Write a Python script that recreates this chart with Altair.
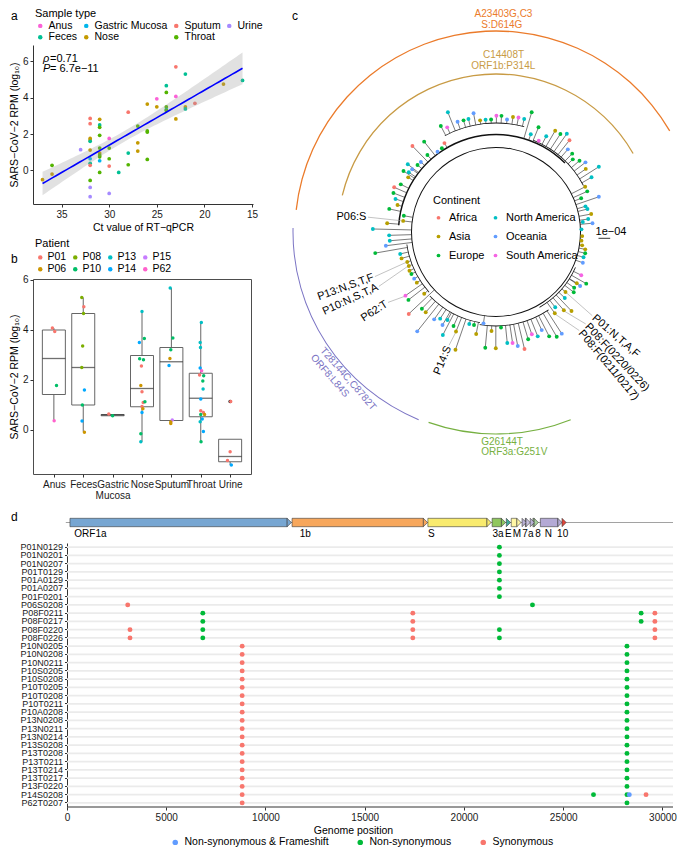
import json
import numpy as np
import pandas as pd
import altair as alt

FONT = "Liberation Sans"

# ======================= panel a: scatter =======================
a_ct = [37, 36, 36, 33,
        32, 32, 32, 32, 32, 32, 32, 32, 32, 32, 32, 32,
        31, 31, 31, 31, 31, 31, 31, 31, 31, 31,
        30, 30, 30, 30, 30,
        29,
        28, 28, 28,
        27, 27, 27,
        26, 26, 26, 26,
        25, 25,
        24, 24, 24, 24, 24,
        23, 23, 23,
        22, 22, 22,
        21, 18, 16]
a_rpm = [-0.51, 0.28, -0.20, 1.14,
         2.86, 2.57, 1.76, 1.67, 1.60, 1.12, 0.64, 0.39, 0.28, -0.55, -0.94, -1.45,
         2.81, 2.50, 2.37, 1.93, 1.23, 0.95, 0.84, 0.75, 0.53, -0.11,
         1.76, 1.23, 0.64, 0.24, -1.27,
         -0.11,
         3.20, 0.95, 0.31,
         2.44, 1.52, 1.06,
         3.65, 2.17, 2.11, 0.60,
         3.94, 3.50,
         4.66, 4.29, 3.49, 3.34, 3.30,
         5.70, 4.07, 2.83,
         5.30, 3.49, 3.38,
         3.69, 4.75, 4.95]
a_type = ["Nose", "Throat", "Nose", "Urine",
          "Sputum", "Sputum", "Nose", "Nose", "Feces", "Nose", "Gastric Mucosa", "Feces", "Sputum", "Throat", "Urine", "Urine",
          "Nose", "Feces", "Throat", "Throat", "Throat", "Nose", "Throat", "Throat", "Gastric Mucosa", "Throat",
          "Anus", "Throat", "Throat", "Sputum", "Urine",
          "Feces",
          "Sputum", "Feces", "Throat",
          "Throat", "Nose", "Nose",
          "Nose", "Throat", "Throat", "Throat",
          "Anus", "Nose",
          "Feces", "Throat", "Throat", "Feces", "Throat",
          "Sputum", "Anus", "Nose",
          "Feces", "Nose", "Feces",
          "Sputum", "Nose", "Feces"]
type_order = ["Anus", "Feces", "Gastric Mucosa", "Nose", "Sputum", "Throat", "Urine"]
type_colors = ["#FB61D7", "#00C094", "#00B6EB", "#C49A00", "#F8766D", "#53B400", "#A58AFF"]
stat_sym = ["ρ", "P"]
stat_val = ["=0.71", "= 6.7e−11"]
stat_ct = [36.95, 36.95]
stat_y = [6.13, 5.57]

dfa = pd.DataFrame({"ct": a_ct, "rpm": a_rpm, "stype": a_type})
xa = np.array(a_ct, float)
ya = np.array(a_rpm, float)
n = len(xa)
slope, icpt = np.polyfit(xa, ya, 1)
res = ya - (icpt + slope * xa)
s_err = np.sqrt((res ** 2).sum() / (n - 2))
sxx = ((xa - xa.mean()) ** 2).sum()
grid = np.linspace(xa.min(), xa.max(), 60)
fit = icpt + slope * grid
se = s_err * np.sqrt(1.0 / n + (grid - xa.mean()) ** 2 / sxx)
band = pd.DataFrame({"ct": grid, "fit": fit, "lo": fit - 2.003 * se, "hi": fit + 2.003 * se})
dfs = pd.DataFrame({"ct": stat_ct, "y": stat_y, "sym": stat_sym, "val": stat_val})

XA = alt.Scale(domain=[38, 14.9], nice=False, zero=False)
YA = alt.Scale(domain=[-1.85, 6.9], nice=False, zero=False)
axa_x = alt.Axis(values=[35, 30, 25, 20, 15], title="Ct value of RT−qPCR", tickSize=3,
                 labelPadding=2, titlePadding=3, labelFlush=False)
axa_y = alt.Axis(values=[0, 2, 4, 6], title="SARS−CoV−2 RPM (log₁₀)", tickSize=3,
                 labelPadding=2, titlePadding=3)

pts_a = alt.Chart(dfa).mark_circle(size=14, opacity=1).encode(
    x=alt.X("ct:Q", scale=XA, axis=axa_x),
    y=alt.Y("rpm:Q", scale=YA, axis=axa_y),
    color=alt.Color("stype:N", scale=alt.Scale(domain=type_order, range=type_colors),
                    legend=alt.Legend(orient="none", legendX=2, legendY=-37, columns=4,
                                      title="Sample type", symbolType="circle", symbolSize=20,
                                      labelFontSize=10.5, titleFontSize=11, rowPadding=0.5,
                                      columnPadding=3, labelOffset=3, titlePadding=1.5)))
band_a = alt.Chart(band).mark_area(color="#9a9a9a", opacity=0.3).encode(
    x=alt.X("ct:Q", scale=XA, axis=axa_x),
    y=alt.Y("lo:Q", scale=YA, axis=axa_y), y2="hi:Q")
line_a = alt.Chart(band).mark_line(color="#0000FF", strokeWidth=1.6).encode(
    x=alt.X("ct:Q", scale=XA, axis=axa_x),
    y=alt.Y("fit:Q", scale=YA, axis=axa_y))
sym_a = alt.Chart(dfs).mark_text(align="left", baseline="middle", fontSize=11, fontStyle="italic").encode(
    x=alt.X("ct:Q", scale=XA, axis=axa_x), y=alt.Y("y:Q", scale=YA, axis=axa_y), text="sym:N")
val_a = alt.Chart(dfs).mark_text(align="left", baseline="middle", fontSize=11, dx=7).encode(
    x=alt.X("ct:Q", scale=XA, axis=axa_x), y=alt.Y("y:Q", scale=YA, axis=axa_y), text="val:N")
lab_a = alt.Chart(pd.DataFrame({"t": ["a"]})).mark_text(
    align="left", baseline="alphabetic", fontSize=12).encode(
    x=alt.value(-22), y=alt.value(-25), text="t:N")
panel_a = alt.layer(pts_a, band_a, line_a, sym_a, val_a, lab_a).properties(
    width=220, height=159, view=alt.ViewBackground(strokeWidth=0))

# ======================= panel b: boxplot =======================
b_cats = ["Anus", "Feces", "Gastric Mucosa", "Nose", "Sputum", "Throat", "Urine"]
b_lo = [0.36, -0.08, 0.55, -0.48, 0.25, -0.48, -1.41]
b_q1 = [1.41, 0.99, 0.56, 0.92, 0.37, 0.52, -1.28]
b_med = [2.85, 2.49, 0.59, 1.65, 2.72, 1.26, -1.07]
b_q3 = [3.99, 4.65, 0.61, 2.97, 3.29, 2.26, -0.38]
b_hi = [4.07, 5.29, 0.63, 4.73, 5.67, 4.29, -0.38]
b_out_cat = ["Urine"]
b_out_val = [1.13]

b_pt_cat = (["Anus"] * 4 + ["Feces"] * 9 + ["Gastric Mucosa"] * 2 + ["Nose"] * 15 +
            ["Sputum"] * 8 + ["Throat"] * 18 + ["Urine"] * 4)
b_pt_val = [4.07, 3.93, 1.77, 0.36,
            5.29, 4.92, 4.65, 3.35, 2.49, 1.59, 0.99, 0.35, -0.10,
            0.63, 0.56,
            4.73, 3.49, 3.65, 2.84, 2.80, 2.55, 1.77, 1.52, 1.09, 1.12, 0.93, 0.84, 0.69, -0.16, -0.48,
            5.67, 3.67, 3.20, 2.85, 2.57, 0.39, 0.31, 0.25,
            4.29, 3.49, 3.29, 2.47, 2.36, 2.19, 2.16, 1.95, 1.63, 1.23, 0.76, 0.69, 0.61, 0.61, 0.43, 0.32, -0.07, -0.48,
            1.13, -0.88, -1.23, -1.41]
b_pt_jit = [-0.05, 0.03, 0.09, 0.01,
            -0.05, 0.02, 0.01, -0.02, -0.05, 0.04, -0.03, -0.04, 0.04,
            -0.13, 0.0,
            0.0, -0.09, 0.08, -0.08, 0.05, -0.02, -0.04, 0.0, 0.04, 0.10, 0.0, 0.03, 0.0, -0.04, -0.04,
            -0.04, 0.05, -0.02, -0.05, -0.08, 0.03, -0.02, -0.02,
            0.02, -0.02, -0.01, -0.02, 0.03, -0.04, 0.10, 0.07, 0.08, 0.0, 0.0, 0.09, 0.13, 0.0, 0.05, -0.02, 0.09, 0.01,
            0.02, 0.0, -0.09, 0.04]
b_pt_pat = ["P01", "P01", "P10", "P62",
            "P08", "P01", "P08", "P08", "P08", "P14", "P10", "P14", "P06",
            "P01", "P10",
            "P13", "P14", "P10", "P10", "P10", "P01", "P06", "P01", "P01", "P10", "P01", "P06", "P14", "P10", "P13",
            "P13", "P10", "P10", "P06", "P14", "P15", "P06", "P06",
            "P13", "P13", "P13", "P14", "P62", "P01", "P10", "P10", "P13", "P14", "P01", "P01", "P06", "P10", "P14", "P13", "P14", "P10",
            "P01", "P01", "P01", "P14"]
pat_order = ["P01", "P06", "P08", "P10", "P13", "P14", "P15", "P62"]
pat_colors = ["#F8766D", "#CD9600", "#7CAE00", "#00BE67", "#00BFC4", "#00A9FF", "#C77CFF", "#FF61CC"]

cat_idx = {c: i for i, c in enumerate(b_cats)}
dfb_box = pd.DataFrame({"cat": b_cats, "idx": list(range(len(b_cats))), "lo": b_lo, "q1": b_q1,
                        "med": b_med, "q3": b_q3, "hi": b_hi})
dfb_pt = pd.DataFrame({"cat": b_pt_cat, "val": b_pt_val, "jit": b_pt_jit, "pat": b_pt_pat})
dfb_pt["xp"] = dfb_pt["cat"].map(cat_idx) + dfb_pt["jit"]
dfb_out = pd.DataFrame({"cat": b_out_cat, "val": b_out_val})
dfb_out["xp"] = dfb_out["cat"].map(cat_idx)

XB = alt.Scale(domain=[-0.54, len(b_cats) - 1 + 0.54], nice=False, zero=False)
YB = alt.Scale(domain=[-1.77, 6.03], nice=False, zero=False)
label_arr = json.dumps([c.split(" ") if " " in c else c for c in b_cats], ensure_ascii=False)
axb_x = alt.Axis(values=list(range(len(b_cats))), labelExpr=label_arr + "[datum.value]", title=None,
                 tickSize=3, labelPadding=2, domain=False, labelOverlap=False, labelFlush=False,
                 labelFontSize=10, labelLineHeight=11)
axb_y = alt.Axis(values=[0, 2, 4, 6], title="SARS−CoV−2 RPM (log₁₀)", domain=False, tickSize=3,
                 labelPadding=2, titlePadding=3)
BOXC = "#555555"
wh1 = alt.Chart(dfb_box).mark_rule(color=BOXC, strokeWidth=0.9).encode(
    x=alt.X("idx:Q", scale=XB, axis=axb_x), y=alt.Y("lo:Q", scale=YB, axis=axb_y), y2="q1:Q")
wh2 = alt.Chart(dfb_box).mark_rule(color=BOXC, strokeWidth=0.9).encode(
    x=alt.X("idx:Q", scale=XB, axis=axb_x), y=alt.Y("q3:Q", scale=YB, axis=axb_y), y2="hi:Q")
box = alt.Chart(dfb_box).mark_bar(size=23, fill="white", stroke=BOXC, strokeWidth=0.9).encode(
    x=alt.X("idx:Q", scale=XB, axis=axb_x), y=alt.Y("q1:Q", scale=YB, axis=axb_y), y2="q3:Q")
med = alt.Chart(dfb_box).mark_tick(orient="horizontal", size=23, thickness=1.3, color="#333333").encode(
    x=alt.X("idx:Q", scale=XB, axis=axb_x), y=alt.Y("med:Q", scale=YB, axis=axb_y))
outl = alt.Chart(dfb_out).mark_circle(size=12, color="black", opacity=1).encode(
    x=alt.X("xp:Q", scale=XB, axis=axb_x), y=alt.Y("val:Q", scale=YB, axis=axb_y))
pts_b = alt.Chart(dfb_pt).mark_circle(size=12, opacity=1).encode(
    x=alt.X("xp:Q", scale=XB, axis=axb_x), y=alt.Y("val:Q", scale=YB, axis=axb_y),
    color=alt.Color("pat:N", scale=alt.Scale(domain=pat_order, range=pat_colors),
                    legend=alt.Legend(orient="none", legendX=2, legendY=-41, columns=4,
                                      title="Patient", symbolType="circle", symbolSize=20,
                                      labelFontSize=10.5, titleFontSize=11, rowPadding=1,
                                      columnPadding=3, labelOffset=2, titlePadding=3)))
lab_b = alt.Chart(pd.DataFrame({"t": ["b"]})).mark_text(
    align="left", baseline="alphabetic", fontSize=12).encode(
    x=alt.value(-22), y=alt.value(-16), text="t:N")
panel_b = alt.layer(wh1, wh2, box, med, outl, pts_b, lab_b).properties(
    width=218, height=195, view=alt.ViewBackground(stroke="#4d4d4d", strokeWidth=1))

# ======================= panel c: circular tree =======================
cont_names = {"F": "Africa", "A": "Asia", "E": "Europe", "N": "North America",
              "O": "Oceania", "S": "South America"}
cont_order = ["Africa", "Asia", "Europe", "North America", "Oceania", "South America"]
cont_colors = ["#F8766D", "#B79F00", "#00BA38", "#00BFC4", "#619CFF", "#F564E3"]

tip_code = list("AAEEANEFEA" "NEONEOEFEO" "EFESNOENOA" "NESEOASNEN" "ESNAENFOEE"
                "EOANNAEOEN" "NANONNAAAA" "ENOSAEOEEA" "NNAAAOEEON" "SEFOSNEAAE"
                "OAENAAENNO" "NOAEOFESAA" "OEAAAANEON" "NN")
tip_angle = [175.4, 173.2, 170.0, 167.8, 164.7, 161.8, 159.2, 156.3, 153.4, 148.1,
             145.6, 146.6, 143.2, 142.5, 139.5, 137.0, 131.7, 134.2, 128.5, 126.1,
             122.9, 120.1, 117.5, 115.0, 111.9, 109.2, 106.2, 103.7, 100.7, 98.1,
             95.3, 92.5, 89.8, 87.3, 84.4, 81.6, 78.9, 76.0, 73.4, 70.4,
             67.9, 64.9, 62.3, 59.7, 56.7, 54.2, 51.3, 49.0, 45.8, 43.4,
             40.5, 37.9, 35.1, 32.4, 29.8, 26.9, 24.0, 18.9, 21.6, 16.0,
             14.1, 10.7, 8.0, 5.2, 6.6, 1.8, -2.7, -5.8, -8.8, -11.0,
             -13.4, -16.1, -19.5, -26.9, -32.4, -29.8, -32.7, -35.5, -37.8, -40.8,
             -43.8, -51.8, -54.1, -49.1, -46.3, -57.1, -59.9, -63.0, -65.0, -68.2,
             -70.7, -73.3, -76.3, -79.2, -81.5, -84.2, -87.0, -90.1, -92.6, -95.3,
             -97.8, -101.0, -103.3, -106.2, -111.9, -109.0, -114.3, -118.9, -117.3, -119.9,
             -122.8, -125.3, -131.2, -134.0, -128.4, -136.8, -142.2, -144.9, -139.3, -147.4,
             -150.3, -153.6, -155.9, -158.7, -161.3, -164.4, -167.1, -170.1, -172.9, -175.3,
             -178.2, 178.6]
tip_radius = [109.2, 93.5, 93.6, 109.2, 102.1, 105.8, 109.7, 111.2, 106.5, 103.4,
              105.7, 110.8, 104.7, 111.2, 103.2, 102.7, 103.1, 119.9, 115.4, 99.3,
              99.7, 102.8, 119.5, 115.5, 129.0, 116.8, 116.3, 116.3, 120.8, 112.8,
              112.8, 112.6, 116.3, 116.3, 113.0, 116.2, 116.7, 116.5, 124.9, 103.7,
              113.0, 100.8, 108.1, 117.3, 117.3, 121.1, 117.5, 109.5, 109.3, 105.7,
              109.8, 113.4, 109.7, 121.8, 110.1, 100.0, 99.9, 108.7, 91.6, 93.1,
              94.3, 96.9, 93.1, 96.9, 87.4, 85.5, 86.3, 85.9, 87.2, 90.9,
              91.7, 91.1, 92.1, 95.6, 95.7, 104.0, 100.0, 96.0, 98.4, 91.8,
              95.3, 95.8, 100.3, 103.6, 109.3, 121.1, 121.1, 117.1, 108.2, 112.4,
              108.4, 112.0, 120.4, 116.1, 112.2, 111.6, 95.6, 116.3, 99.1, 116.2,
              92.2, 103.9, 95.6, 95.8, 107.2, 124.5, 103.2, 100.5, 115.9, 107.3,
              103.1, 107.0, 106.7, 106.7, 126.8, 119.7, 110.8, 110.7, 94.7, 94.0,
              94.2, 94.4, 94.8, 93.6, 93.7, 98.1, 98.3, 122.6, 111.0, 106.6,
              106.9, 123.2]

bb_t1 = [-180, 45, 75, 28, -100, -136, -172, -60]
bb_t2 = [180, 176, 118, 68, -56, -100, -138, -24]
bb_r = [84.5, 97.5, 109.0, 99.0, 94.0, 92.0, 90.0, 87.0]
bb_w = [1.0, 1.5, 0.8, 0.8, 0.8, 0.8, 0.8, 0.8]

ann_arc_t1 = [30.2, 29.8, 178.9, -109.5]
ann_arc_t2 = [173.7, 166.6, 247.6, -68.3]
ann_arc_r = [201, 158, 203, 202]
ann_arc_w = [1.3, 1.3, 1.0, 1.2]
ann_arc_col = ["#EB7B2B", "#C89B45", "#7B74C4", "#76B041"]

ann_text = ["A23403G,C3", "S:D614G", "C14408T", "ORF1b:P314L",
            "T28144C,C8782T", "ORF8:L84S", "G26144T", "ORF3a:G251V"]
ann_x = [7.5, 5.8, 7.5, 7.3, -147.8, -166.2, -14.8, -14.8]
ann_y = [218.0, 207.5, 177.0, 166.2, -146.8, -143.8, -209.7, -220.2]
ann_rot = [0, 0, 0, 0, 49, 49, 0, 0]
ann_align = ["center"] * 6 + ["left", "left"]
ann_col = ["#EB7B2B", "#EB7B2B", "#C89B45", "#C89B45", "#7B74C4", "#7B74C4", "#76B041", "#76B041"]

lab_text = ["P06:S", "P13:N,S,T,F", "P10:N,S,T,A", "P62:T", "P14:S",
            "P01:N,T,A,F", "P08:F(0220/0226)", "P08:F(0211/0217)"]
lab_angle = [173.4, -159.8, -155.1, -146.9, -112.5, -41.0, -45.7, -49.8]
lab_r = [130.4, 130.5, 130.6, 130.4, 124.0, 129.0, 130.0, 130.5]
lab_tip = [1, 124, 123, 117, 104, 79, 83, 82]
lab_rot = [0, 339.8, 335.1, 326.9, 292.5, 41, 47, 50]
lab_align = ["right", "right", "right", "right", "right", "left", "left", "left"]

sbar_x = [102.5, 114.2]
sbar_y = [-6.3, -6.3]
sbar_text = "1e−04"
sbar_tx = [115.0]
sbar_ty = [0.3]


def pol(ang, r):
    a = np.deg2rad(np.asarray(ang, float))
    r = np.asarray(r, float)
    return r * np.cos(a), r * np.sin(a)


def arc_df(t1, t2, r, w, col):
    s = 90 - np.asarray(t2, float)
    e = 90 - np.asarray(t1, float)
    shift = np.where(s < 0, 360.0, 0.0)
    s = s + shift
    e = e + shift
    r = np.asarray(r, float)
    w = np.asarray(w, float)
    return pd.DataFrame({"cx": 0.0, "cy": 0.0, "th1": np.deg2rad(s), "th2": np.deg2rad(e),
                         "ra": r - w / 2, "rb": r + w / 2, "col": col})


tips = pd.DataFrame({"ang": tip_angle, "r": tip_radius, "code": tip_code})
tips["cont"] = tips["code"].map(cont_names)
tips["x"], tips["y"] = pol(tips["ang"], tips["r"])


def base_radius(a, r):
    best = 0.0
    for t1, t2, rr in zip(bb_t1, bb_t2, bb_r):
        if t1 - 0.5 <= a <= t2 + 0.5 and rr < r - 0.3 and rr > best:
            best = rr
    return best


tips["rbase"] = [base_radius(a, r) for a, r in zip(tips["ang"], tips["r"])]
tips["xb"], tips["yb"] = pol(tips["ang"], tips["rbase"])

arcs_bb = arc_df(bb_t1, bb_t2, bb_r, bb_w, ["#111111"] * len(bb_r))
arcs_ann = arc_df(ann_arc_t1, ann_arc_t2, ann_arc_r, ann_arc_w, ann_arc_col)
arcs = pd.concat([arcs_bb, arcs_ann], ignore_index=True)

labs = pd.DataFrame({"text": lab_text, "ang": lab_angle, "r": lab_r, "rot": lab_rot, "al": lab_align})
labs["x"], labs["y"] = pol(labs["ang"], labs["r"])
tip_sel = tips.iloc[lab_tip].reset_index(drop=True)
lead_x0, lead_y0 = pol(tip_sel["ang"], tip_sel["r"] + 1.5)
lead_x1, lead_y1 = pol(labs["ang"], labs["r"] - 1.5)
leads = pd.DataFrame({"x0": lead_x0, "y0": lead_y0, "x1": lead_x1, "y1": lead_y1})

anns = pd.DataFrame({"text": ann_text, "x": ann_x, "y": ann_y, "rot": ann_rot,
                     "al": ann_align, "col": ann_col})
sbar = pd.DataFrame({"x0": [sbar_x[0]], "x1": [sbar_x[1]], "y0": [sbar_y[0]], "y1": [sbar_y[1]]})
stext = pd.DataFrame({"x": sbar_tx, "y": sbar_ty, "t": [sbar_text]})

C_W = 383.5
C_TOP = 187.0
C_H = 463
TX = alt.Scale(domain=[-206, 177.5], nice=False, zero=False)
TY = alt.Scale(domain=[C_TOP - C_H, C_TOP], nice=False, zero=False)


def tx(f):
    return alt.X(f, type="quantitative", scale=TX, axis=None)


def ty(f):
    return alt.Y(f, type="quantitative", scale=TY, axis=None)


arc_layer = alt.Chart(arcs).mark_arc().encode(
    x=tx("cx"), y=ty("cy"),
    theta=alt.Theta("th1:Q", scale=None), theta2=alt.Theta2("th2:Q"),
    radius=alt.Radius("ra:Q", scale=None), radius2=alt.Radius2("rb:Q"),
    color=alt.Color("col:N", scale=None))
stem_layer = alt.Chart(tips).mark_rule(color="#222222", strokeWidth=0.6).encode(
    x=tx("xb"), y=ty("yb"), x2="x:Q", y2="y:Q")
lead_layer = alt.Chart(leads).mark_rule(color="#9a9a9a", strokeWidth=0.6).encode(
    x=tx("x0"), y=ty("y0"), x2="x1:Q", y2="y1:Q")
tip_layer = alt.Chart(tips).mark_circle(size=15, opacity=1).encode(
    x=tx("x"), y=ty("y"),
    color=alt.Color("cont:N", scale=alt.Scale(domain=cont_order, range=cont_colors),
                    legend=alt.Legend(orient="none", legendX=143, legendY=187 - (224 - C_TOP), columns=2,
                                      title="Continent", symbolType="circle", symbolSize=14,
                                      labelFontSize=11, titleFontSize=11, rowPadding=7,
                                      columnPadding=5, labelOffset=5, titlePadding=6)))
labr_layer = alt.Chart(labs).transform_filter("datum.al == 'right'").mark_text(
    align="right", baseline="middle", fontSize=11, color="black").encode(
    x=tx("x"), y=ty("y"), text="text:N", angle=alt.Angle("rot:Q", scale=None))
labl_layer = alt.Chart(labs).transform_filter("datum.al == 'left'").mark_text(
    align="left", baseline="middle", fontSize=11, color="black").encode(
    x=tx("x"), y=ty("y"), text="text:N", angle=alt.Angle("rot:Q", scale=None))
annc_layer = alt.Chart(anns).transform_filter("datum.al == 'center'").mark_text(
    align="center", baseline="middle", fontSize=10).encode(
    x=tx("x"), y=ty("y"), text="text:N", angle=alt.Angle("rot:Q", scale=None),
    color=alt.Color("col:N", scale=None))
annl_layer = alt.Chart(anns).transform_filter("datum.al == 'left'").mark_text(
    align="left", baseline="middle", fontSize=10).encode(
    x=tx("x"), y=ty("y"), text="text:N", color=alt.Color("col:N", scale=None))
sbar_layer = alt.Chart(sbar).mark_rule(color="black", strokeWidth=0.8).encode(
    x=tx("x0"), y=ty("y0"), x2="x1:Q", y2="y1:Q")
stext_layer = alt.Chart(stext).mark_text(fontSize=11, baseline="middle").encode(
    x=tx("x"), y=ty("y"), text="t:N")
lab_c = alt.Chart(pd.DataFrame({"t": ["c"]})).mark_text(
    align="left", baseline="alphabetic", fontSize=12).encode(
    x=alt.value(2), y=alt.value(-25), text="t:N")
panel_c = alt.layer(arc_layer, stem_layer, lead_layer, tip_layer, labr_layer, labl_layer,
                    annc_layer, annl_layer, sbar_layer, stext_layer, lab_c).properties(
    width=C_W, height=C_H, view=alt.ViewBackground(strokeWidth=0))

# ======================= panel d: mutations =======================
d_samples = ["P01N0129", "P01N0201", "P01N0207", "P01T0129", "P01A0129", "P01A0207", "P01F0201",
             "P06S0208", "P08F0211", "P08F0217", "P08F0220", "P08F0226",
             "P10N0205", "P10N0208", "P10N0211", "P10S0205", "P10S0208", "P10T0205", "P10T0208",
             "P10T0211", "P10A0208", "P13N0208", "P13N0211", "P13N0214", "P13S0208", "P13T0208",
             "P13T0211", "P13T0214", "P13T0217", "P13F0220", "P14S0208", "P62T0207"]
NS = "Non-synonymous"
SY = "Synonymous"
NF = "Non-synonymous & Frameshift"
mut_groups = [
    (d_samples[0:7], [21785], [NS]),
    (["P06S0208"], [3059, 23450], [SY, NS]),
    (["P08F0211", "P08F0217"], [6842, 17422, 28924, 29618], [NS, SY, NS, SY]),
    (["P08F0220", "P08F0226"], [3174, 6842, 17422, 21785, 29618], [SY, NS, SY, NS, SY]),
    (d_samples[12:32], [8825, 28211], [SY, NS]),
    (["P14S0208"], [26525, 28329, 29172], [NS, NF, SY]),
]
mut_order = [NF, NS, SY]
mut_colors = ["#619CFF", "#00BA38", "#F8766D"]

gene_name = ["ORF1a", "1b", "S", "3a", "E", "M", "6", "7a", "7b", "8", "N", "10"]
gene_start = [149, 11339, 18181, 21418, 22132, 22380, 22926, 23090, 23337, 23471, 23847, 24938]
gene_end = [11304, 18165, 21368, 22097, 22310, 22876, 23090, 23337, 23451, 23748, 24938, 25072]
gene_fill = ["#77A6D2", "#F7A75C", "#F9EB6E", "#90C75E", "#3FA99A", "#FFF6A5", "#B9B1D6",
             "#C9C2E0", "#B9B1D6", "#A8D39C", "#B4AAD5", "#E2463B"]
gene_lab = ["ORF1a", "1b", "S", "3a", "E", "M", "7a", "8", "N", "10"]
gene_lab_x = [367, 11720, 18181, 21438, 22063, 22460, 22940, 23584, 24066, 24690]
track_span = [-60, 30530]
axis_span = [0, 30530]

rows = []
for smp, poss, typs in mut_groups:
    for s_ in smp:
        for p_, t_ in zip(poss, typs):
            rows.append({"sample": s_, "pos": p_, "mtype": t_})
dfd = pd.DataFrame(rows)

# the plot area starts 34px left of genome position 0; the sample labels live in that strip
D_DATA_W = 606
D_LEFT = 34
D_W = D_DATA_W + D_LEFT
D_H = 264
units_px = 30530.0 / D_DATA_W
XD = alt.Scale(domain=[-D_LEFT * units_px, 30530], nice=False, zero=False)
tip_units = 4.2 * units_px
genes = pd.DataFrame({"name": gene_name, "start": gene_start, "end": gene_end, "fill": gene_fill})
genes["bend"] = np.maximum(genes["start"], genes["end"] - tip_units)
genes_body = genes[genes["bend"] > genes["start"]]
glabs = pd.DataFrame({"lab": gene_lab, "x": gene_lab_x})
track = pd.DataFrame({"x0": [track_span[0]], "x1": [track_span[1]]})
gridd = pd.DataFrame({"sample": d_samples, "x0": axis_span[0], "x1": axis_span[1]})
baseline_d = pd.DataFrame({"x0": [axis_span[0]], "x1": [axis_span[1]]})

axd_x = alt.Axis(values=[0, 5000, 10000, 15000, 20000, 25000, 30000], format="d",
                 title="Genome position", tickSize=3, labelPadding=2, titlePadding=3,
                 labelFlush=False, domain=False)
axd_y = alt.Axis(title=None, labelFontSize=9, tickSize=2.5, labelPadding=2, offset=-D_LEFT,
                 bandPosition=0.5, domainColor="#333333")
YD = alt.Scale(domain=d_samples, paddingInner=0, paddingOuter=0)

grid_layer = alt.Chart(gridd).mark_rule(color="#EBEBEB", strokeWidth=1.6).encode(
    x=alt.X("x0:Q", scale=XD, axis=axd_x), x2="x1:Q",
    y=alt.Y("sample:N", sort=d_samples, scale=YD, axis=axd_y, bandPosition=0.5))
base_layer = alt.Chart(baseline_d).mark_rule(color="#333333", strokeWidth=1).encode(
    x=alt.X("x0:Q", scale=XD, axis=axd_x), x2="x1:Q", y=alt.value(D_H))
pts_d = alt.Chart(dfd).mark_circle(size=24, opacity=1).encode(
    x=alt.X("pos:Q", scale=XD, axis=axd_x),
    y=alt.Y("sample:N", sort=d_samples, scale=YD, axis=axd_y),
    color=alt.Color("mtype:N", scale=alt.Scale(domain=mut_order, range=mut_colors),
                    legend=alt.Legend(orient="none", legendX=137, legendY=294, direction="horizontal",
                                      title=None, symbolType="circle", symbolSize=30,
                                      labelFontSize=10.5, columnPadding=26, labelOffset=4)))
track_layer = alt.Chart(track).mark_rule(color="#8a8a8a", strokeWidth=0.8).encode(
    x=alt.X("x0:Q", scale=XD, axis=axd_x), x2="x1:Q", y=alt.value(-20.5))
body_layer = alt.Chart(genes_body).mark_rect(stroke="#3d3d3d", strokeWidth=0.6).encode(
    x=alt.X("start:Q", scale=XD, axis=axd_x), x2="bend:Q",
    y=alt.value(-24.7), y2=alt.value(-16.3), fill=alt.Fill("fill:N", scale=None))
tipg_layer = alt.Chart(genes).mark_point(shape="M0,-1L1,0L0,1Z", size=70.6, filled=True,
                                         stroke="#3d3d3d", strokeWidth=0.6, opacity=1).encode(
    x=alt.X("bend:Q", scale=XD, axis=axd_x), y=alt.value(-20.5), fill=alt.Fill("fill:N", scale=None))
glab_layer = alt.Chart(glabs).mark_text(align="left", baseline="middle", fontSize=10).encode(
    x=alt.X("x:Q", scale=XD, axis=axd_x), y=alt.value(-9), text="lab:N")
lab_d = alt.Chart(pd.DataFrame({"t": ["d"]})).mark_text(
    align="left", baseline="alphabetic", fontSize=12).encode(
    x=alt.value(-22), y=alt.value(-22), text="t:N")
panel_d = alt.layer(grid_layer, base_layer, pts_d, track_layer, body_layer, tipg_layer, glab_layer,
                    lab_d).properties(width=D_W, height=D_H, view=alt.ViewBackground(strokeWidth=0))

# ======================= layout =======================
left = alt.concat(panel_a, panel_b, columns=1, spacing=4, align="none").resolve_scale(color="independent")
top = alt.concat(left, panel_c, columns=2, spacing=27, align="none").resolve_scale(color="independent")
chart = alt.concat(top, panel_d, columns=1, spacing=3, align="none").resolve_scale(
    color="independent").properties(padding=0)
chart = (chart.configure(font=FONT)
         .configure_view(strokeWidth=0)
         .configure_axis(labelFont=FONT, titleFont=FONT, labelColor="#1a1a1a", titleColor="#000000",
                         domainColor="#333333", tickColor="#333333", titleFontWeight="normal",
                         labelFontSize=10, titleFontSize=10.5, grid=False)
         .configure_legend(labelFont=FONT, titleFont=FONT, titleFontWeight="normal",
                           labelColor="#000000", titleColor="#000000")
         .configure_text(font=FONT))

chart.save("out.html", embed_options={"renderer": "svg", "actions": False})
